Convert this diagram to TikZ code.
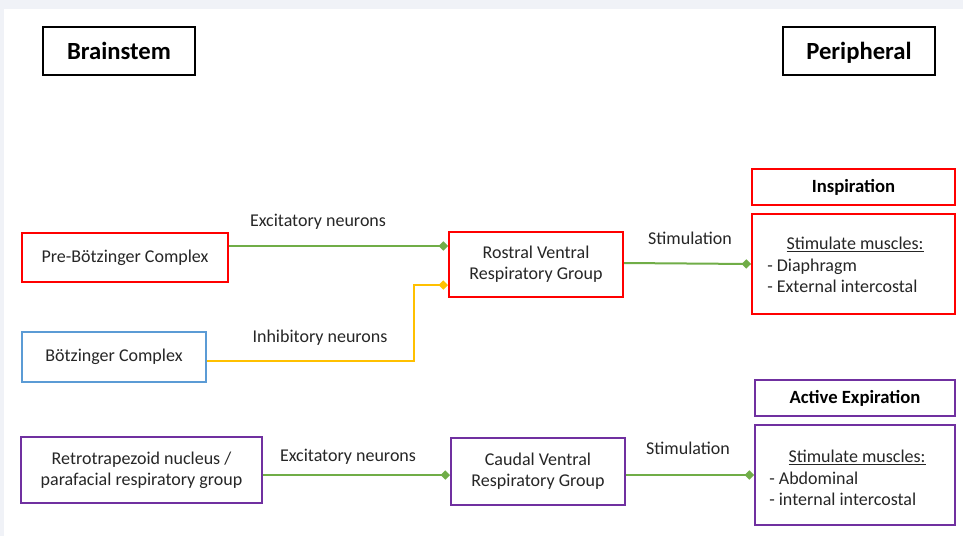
\documentclass[tikz,border=0pt]{standalone}
\usepackage{fontspec}
\setmainfont{Carlito}
\usetikzlibrary{arrows.meta}
\definecolor{cred}{HTML}{FF0000}
\definecolor{cgreen}{HTML}{70AD47}
\definecolor{cyellow}{HTML}{FFC000}
\definecolor{cblue}{HTML}{5B9BD5}
\definecolor{cpurple}{HTML}{7030A0}
\definecolor{cframe}{HTML}{F0F2F7}
\definecolor{ctext}{HTML}{262626}
\tikzset{
  bx/.style={draw, line width=1.5pt, fill=white, inner sep=0pt, align=center, text=ctext, font=\fontsize{13.5}{16}\selectfont},
  hdr/.style={bx, draw=black, font=\fontsize{18.5}{22}\selectfont\bfseries, text=black, text height=16pt, text depth=3.5pt},
  hdrs/.style={bx, font=\fontsize{14}{16}\selectfont\bfseries, text=black, text height=11pt, text depth=2.5pt},
  lbl/.style={text=ctext, font=\fontsize{13.5}{16}\selectfont, inner sep=0pt},
  conn/.style={line width=1.5pt, -{Diamond[length=7pt,width=7pt]}},
}
\begin{document}
\begin{tikzpicture}[x=0.75pt,y=-0.75pt]
\fill[cframe] (0,0) rectangle (963,536);
\fill[white] (4,9) rectangle (963,536);
\useasboundingbox (0,0) rectangle (963,536);
% headers
\node[hdr, minimum width=152*0.75pt, minimum height=48*0.75pt] (brain) at (119,51) {Brainstem};
\node[hdr, minimum width=152*0.75pt, minimum height=48*0.75pt] (peri) at (859,51) {Peripheral};
% left column
\node[bx, draw=cred, minimum width=206*0.75pt, minimum height=49*0.75pt] (preb) at (125,257.5) {Pre-Bötzinger Complex};
\node[bx, draw=cblue, minimum width=184*0.75pt, minimum height=50*0.75pt] (botz) at (114,357) {Bötzinger Complex};
\node[bx, draw=cpurple, minimum width=241*0.75pt, minimum height=66*0.75pt] (rtn) at (141.5,470) {Retrotrapezoid nucleus /\\parafacial respiratory group};
% middle column
\node[bx, draw=cred, minimum width=174*0.75pt, minimum height=65*0.75pt] (rvrg) at (536,264.5) {Rostral Ventral\\Respiratory Group};
\node[bx, draw=cpurple, minimum width=174*0.75pt, minimum height=67*0.75pt] (cvrg) at (538,471.5) {Caudal Ventral\\Respiratory Group};
% right column
\node[hdrs, draw=cred, minimum width=203*0.75pt, minimum height=36*0.75pt] (insp) at (853.5,187) {Inspiration};
\node[bx, draw=cred, minimum width=203*0.75pt, minimum height=100*0.75pt] (inspb) at (853.5,264) {};
\node[lbl, anchor=base] (inspt) at (855,249) {\underline{Stimulate muscles:}};
\node[lbl, anchor=base west] (insp1) at (767,271) {- Diaphragm};
\node[lbl, anchor=base west] (insp2) at (767,292) {- External intercostal};
\node[hdrs, draw=cpurple, minimum width=200*0.75pt, minimum height=36*0.75pt] (expi) at (855,398) {Active Expiration};
\node[bx, draw=cpurple, minimum width=200*0.75pt, minimum height=100*0.75pt] (expib) at (855,475) {};
\node[lbl, anchor=base] (expit) at (857,462) {\underline{Stimulate muscles:}};
\node[lbl, anchor=base west] (expi1) at (769,484) {- Abdominal};
\node[lbl, anchor=base west] (expi2) at (769,505) {- internal intercostal};
% connectors
\draw[conn, cgreen] (preb.east |- 0,246) -- (rvrg.west |- 0,246);
\node[lbl] (l1) at (318,222) {Excitatory neurons};
\coordinate (yk) at (414,361);
\draw[conn, cyellow] (botz.east |- yk) -- (yk) -- (414,285) -- (rvrg.west |- 0,285);
\node[lbl] (l2) at (320,338) {Inhibitory neurons};
\draw[conn, cgreen] (rvrg.east |- 0,263) -- (inspb.west |- 0,264);
\node[lbl] (l3) at (690,238) {Stimulation};
\draw[conn, cgreen] (rtn.east |- 0,475) -- (cvrg.west |- 0,475);
\node[lbl] (l4) at (348,457) {Excitatory neurons};
\draw[conn, cgreen] (cvrg.east |- 0,475) -- (expib.west |- 0,475);
\node[lbl] (l5) at (688,448) {Stimulation};
\end{tikzpicture}
\end{document}
